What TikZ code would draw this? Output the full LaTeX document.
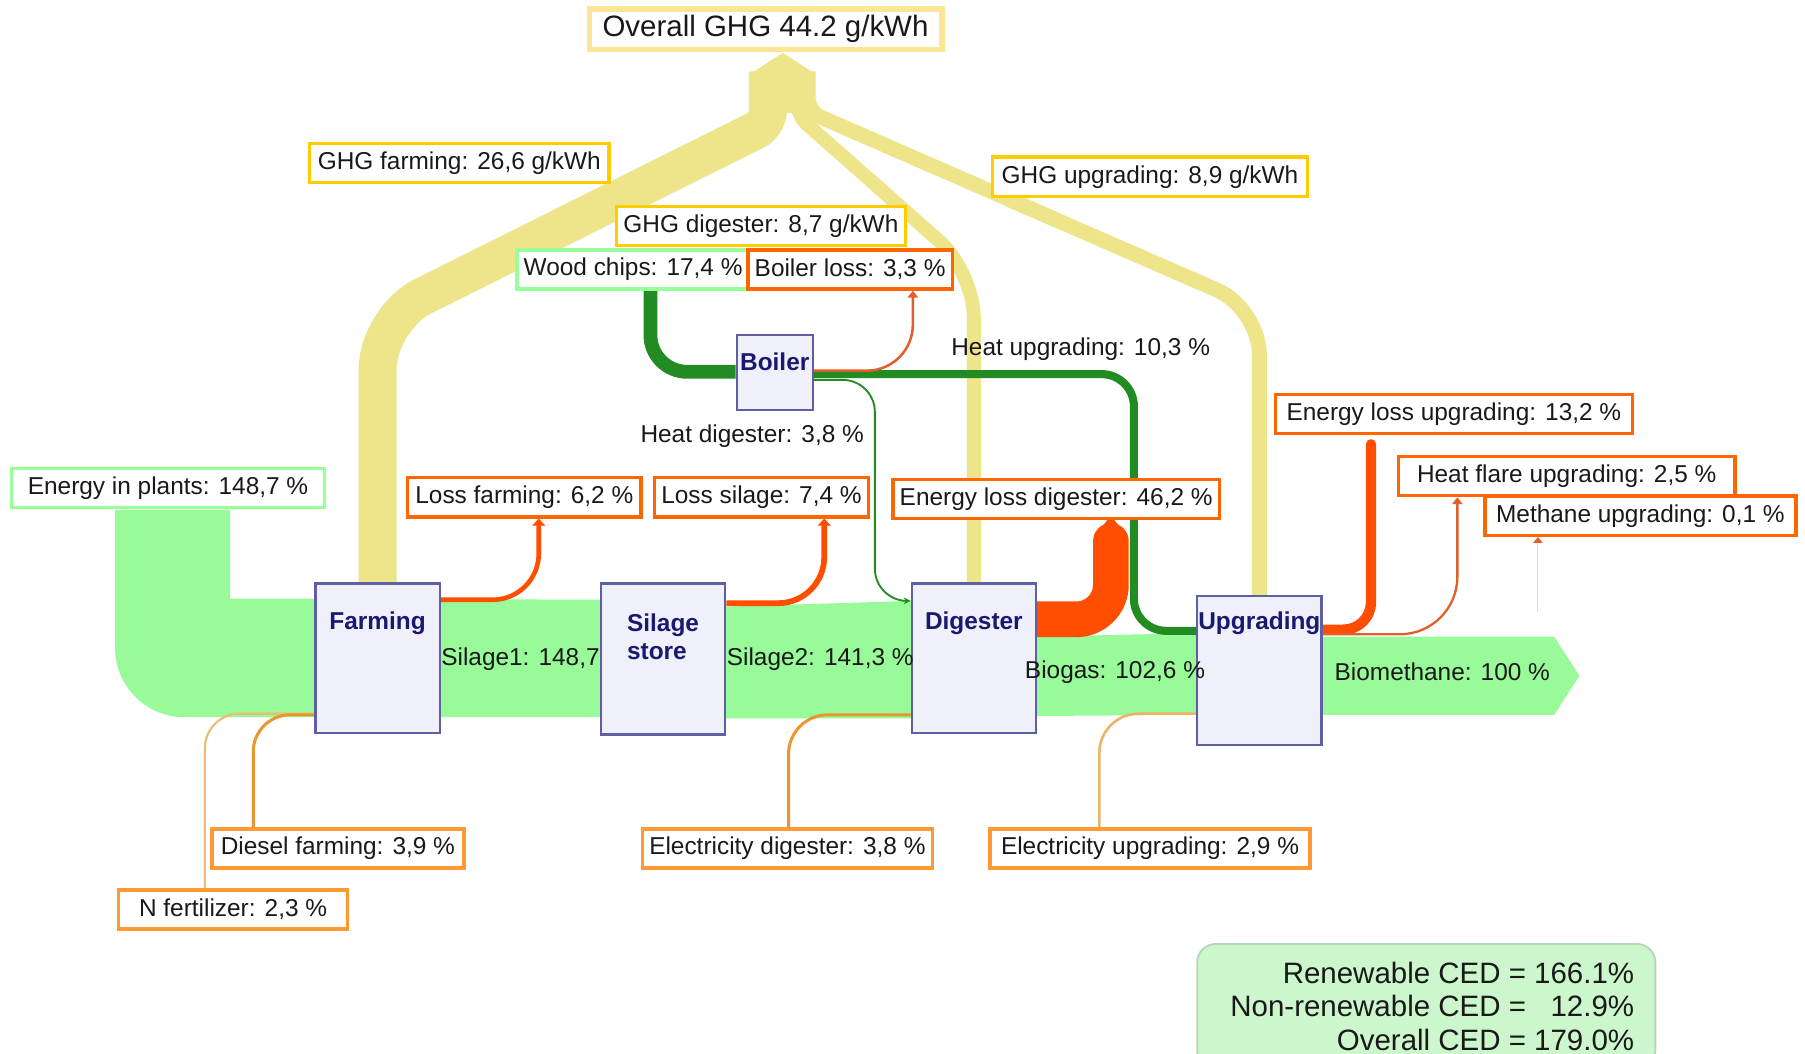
\documentclass[tikz,border=0pt]{standalone}
\usepackage{fontspec}
\setmainfont{Liberation Sans}
\usetikzlibrary{arrows.meta,backgrounds}
\definecolor{ghg}{RGB}{238,228,138}
\definecolor{ghgtitle}{RGB}{250,230,150}
\definecolor{goldb}{RGB}{255,204,0}
\definecolor{flowgreen}{RGB}{152,250,152}
\definecolor{lgreenb}{RGB}{153,255,153}
\definecolor{lossred}{RGB}{255,78,0}
\definecolor{lossthin}{RGB}{225,95,45}
\definecolor{lossbox}{RGB}{255,102,0}
\definecolor{inbox}{RGB}{255,153,51}
\definecolor{inflow}{RGB}{232,150,45}
\definecolor{inflowl}{RGB}{238,185,115}
\definecolor{heat}{RGB}{34,139,34}
\definecolor{procfill}{RGB}{240,240,250}
\definecolor{procdraw}{RGB}{95,95,165}
\definecolor{proctext}{RGB}{25,25,112}
\definecolor{cedfill}{RGB}{204,246,204}
\definecolor{ceddraw}{RGB}{180,215,180}
\definecolor{txt}{RGB}{25,25,25}
\tikzset{
  lbl/.style={font=\fontsize{10.6}{12.7}\selectfont, text=txt, inner sep=0pt},
  bigtxt/.style={font=\fontsize{12.8}{14.5}\selectfont, text=txt, inner sep=0pt},
  bx/.style={lbl, draw, line width=1.5pt, fill=white, inner xsep=3pt, inner ysep=0pt, minimum height=17pt},
  ghgbx/.style={bx, draw=goldb},
  grnbx/.style={bx, draw=lgreenb},
  lossbx/.style={bx, draw=lossbox},
  inbx/.style={bx, draw=inbox},
  proc/.style={draw=procdraw, line width=1pt, fill=procfill, inner sep=0pt},
  proct/.style={font=\fontsize{10.6}{12}\selectfont\bfseries, text=proctext, inner sep=0pt, align=left},
  flowtxt/.style={lbl, anchor=west},
  ghgband/.style={draw=ghg, line cap=butt},
  heatline/.style={draw=heat, line cap=butt},
  lossline/.style={draw=lossred, line cap=butt},
  inline/.style={draw=inflow, line cap=butt, rounded corners=16pt},
  tip/.style={-{Triangle[length=3pt,width=5.5pt]}},
}
\begin{document}
\begin{tikzpicture}[x=0.5pt, y=-0.5pt]
\useasboundingbox (0,0) rectangle (1568,915);

% ---------- process boxes ----------
\node[proc, minimum width=54pt, minimum height=65pt] (farm) at (328,572) {};
\node[proc, minimum width=54pt, minimum height=65.5pt] (silage) at (576,572.5) {};
\node[proc, minimum width=54pt, minimum height=65pt] (dig) at (846,572) {};
\node[proc, minimum width=54pt, minimum height=64.5pt] (upg) at (1094,582.5) {};
\node[proc, minimum width=33pt, minimum height=32.5pt] (boiler) at (673,323.5) {};
\node[proct] (farmT) at (328,541) {Farming};
\node[proct] (silT) at (576,553) {Silage\\store};
\node[proct] (digT) at (846,541) {Digester};
\node[proct] (upgT) at (1094,541) {Upgrading};
\node[proct] (boilT) at (673,314) {Boiler};

% ---------- label boxes ----------
\node[bx, draw=ghgtitle, line width=2.5pt, font=\fontsize{12.8}{14.5}\selectfont, minimum width=153pt, minimum height=17.5pt] (title) at (665,25.5) {Overall GHG 44.2 g/kWh};
\node[ghgbx, minimum width=130pt] (gfarm) at (399,141.5) {GHG farming: 26,6 g/kWh};
\node[ghgbx, minimum width=124pt] (gdig) at (661,196.5) {GHG digester: 8,7 g/kWh};
\node[ghgbx, minimum width=137pt] (gupg) at (999,153.5) {GHG upgrading: 8,9 g/kWh};
\node[grnbx, minimum width=136pt] (ein) at (146,424) {Energy in plants: 148,7 \%};
\node[grnbx, minimum width=98pt] (wood) at (550,234) {Wood chips: 17,4 \%};
\node[lossbx, minimum width=86.5pt] (bloss) at (738.5,234) {Boiler loss: 3,3 \%};
\node[lossbx, minimum width=101.5pt] (lfarm) at (455.5,432) {Loss farming: 6,2 \%};
\node[lossbx, minimum width=91.5pt] (lsil) at (661.5,432) {Loss silage: 7,4 \%};
\node[lossbx, minimum width=141.5pt] (ldig) at (917.5,433.5) {Energy loss digester: 46,2 \%};
\node[lossbx, minimum width=155pt] (lupg) at (1263,359.5) {Energy loss upgrading: 13,2 \%};
\node[lossbx, minimum width=146pt] (flare) at (1361,413.5) {Heat flare upgrading: 2,5 \%};
\node[lossbx, minimum width=135pt] (meth) at (1425,448) {Methane upgrading: 0,1 \%};
\node[inbx, minimum width=109.5pt] (diesel) at (293.5,737) {Diesel farming: 3,9 \%};
\node[inbx, minimum width=99.5pt] (nfert) at (202.5,790) {N fertilizer: 2,3 \%};
\node[inbx, minimum width=126pt] (edig) at (684,737) {Electricity digester: 3,8 \%};
\node[inbx, minimum width=139pt] (eupg) at (999,737) {Electricity upgrading: 2,9 \%};

% ---------- flow texts ----------
\node[flowtxt] (t1) at (383,573) {Silage1: 148,7};
\node[flowtxt] (t2) at (631,573) {Silage2: 141,3 \%};
\node[flowtxt] (t3) at (890,584) {Biogas: 102,6 \%};
\node[flowtxt] (t4) at (1159,584) {Biomethane: 100 \%};
\node[flowtxt] (t5) at (556,379) {Heat digester: 3,8 \%};
\node[flowtxt] (t6) at (826,303) {Heat upgrading: 10,3 \%};

% ---------- CED box ----------
\node[draw=ceddraw, fill=cedfill, rounded corners=8pt, line width=0.8pt, minimum width=199pt, minimum height=54pt, inner sep=0pt] (cedbox) at (1239,874) {};
\node[bigtxt, align=right, anchor=east] (cedtxt) at (1420,874) {Renewable CED = 166.1\%\\Non-renewable CED = \hphantom{1}12.9\%\\Overall CED = 179.0\%};

\begin{scope}[on background layer]
\fill[white] (0,0) rectangle (1568,915);
% ---------- GHG bands ----------
\fill[ghg] (652,98) -- (652,64) -- (680,46) -- (708,64) -- (708,98) -- cycle;
\draw[ghgband, line width=16.5pt, rounded corners=6pt] (667,62) -- (667,108) -- (490,196.2);
\draw[ghgband, line width=16.5pt, rounded corners=22pt] (506,188.3) -- (farm.north |- 0,277) -- (farm.north);
\draw[ghgband, line width=6pt, rounded corners=6pt] (692,62) -- (692,100) -- (776.7,174.8);
\draw[ghgband, line width=6pt, rounded corners=20pt] (761.3,161.2) -- (dig.north |- 0,236) -- (dig.north);
\draw[ghgband, line width=6.5pt, rounded corners=6pt] (702,62) -- (702,97) -- (917.6,191);
\draw[ghgband, line width=6.5pt, rounded corners=20pt] (878.4,174) -- (upg.north |- 0,268) -- (upg.north);

% ---------- main energy bands ----------
\fill[flowgreen] (200,443) -- (100,443) -- (100,563) .. controls (100,596) and (127,623) .. (160,623) -- (522,623) -- (522,521) -- (274,520) -- (200,520) -- cycle;
\fill[flowgreen] (630,527) -- (792,522) -- (792,624) -- (630,624) -- cycle;
\fill[flowgreen] (900,553) -- (1040,550) -- (1040,621) -- (900,622) -- cycle;
\fill[flowgreen] (1148,553) -- (1350,553) -- (1372,587) -- (1350,621) -- (1148,621) -- cycle;

% ---------- heat ----------
\draw[heatline, line width=6pt, rounded corners=16pt] (wood.south -| 565,0) -- (565,323) -- (boiler.west |- 0,323);
\draw[heatline, line width=3.5pt, rounded corners=14pt] (boiler.east |- 0,325) -- (985,325) -- (985,548) -- (upg.west |- 0,548);
\draw[heatline, line width=0.8pt, rounded corners=14pt, -{Stealth[length=3pt,width=3pt]}] (boiler.east |- 0,330) -- (760,330) -- (760,522) -- (dig.west |- 0,522);

% ---------- losses ----------
\draw[lossline, line width=2pt, rounded corners=20pt, tip] (farm.east |- 0,521) -- (468,521) -- (lfarm.south -| 468,0);
\draw[lossline, line width=2.5pt, rounded corners=20pt, tip] (silage.east |- 0,524) -- (716,524) -- (lsil.south -| 716,0);
\draw[lossline, line width=15.5pt, rounded corners=15pt, line cap=round] (dig.east |- 0,538) -- (965,538) -- (965,470);
\fill[lossred] (957,458) -- (965,448) -- (973,458) -- cycle;
\draw[draw=lossthin, line width=1.1pt, rounded corners=20pt, -{Triangle[length=3pt,width=4.5pt]}] (boiler.east |- 0,322) -- (793,322) -- (bloss.south -| 793,0);
\draw[lossline, line width=4.5pt, rounded corners=12pt, line cap=round] (upg.east |- 0,547) -- (1191,547) -- (1191,386);
\draw[draw=lossthin, line width=1pt, rounded corners=25pt, -{Triangle[length=3pt,width=4.5pt]}] (upg.east |- 0,551) -- (1266,551) -- (flare.south -| 1266,0);
\draw[draw=lossthin!25, line width=0.4pt, -{Triangle[color=lossthin, length=2.5pt, width=4pt]}] (1336,532) -- (meth.south -| 1336,0);

% ---------- inputs ----------
\draw[inline, draw=inflowl, line width=0.9pt, rounded corners=15pt] (farm.west |- 0,620) -- (178,620) -- (nfert.north -| 178,0);
\draw[inline, line width=1.3pt] (farm.west |- 0,621) -- (220,621) -- (diesel.north -| 220,0);
\draw[inline, line width=1.3pt, rounded corners=17pt] (dig.west |- 0,621) -- (685,621) -- (edig.north -| 685,0);
\draw[inline, draw=inflowl!80!inflow, line width=1.1pt, rounded corners=17pt] (upg.west |- 0,620) -- (955,620) -- (eupg.north -| 955,0);
\end{scope}
\end{tikzpicture}
\end{document}
